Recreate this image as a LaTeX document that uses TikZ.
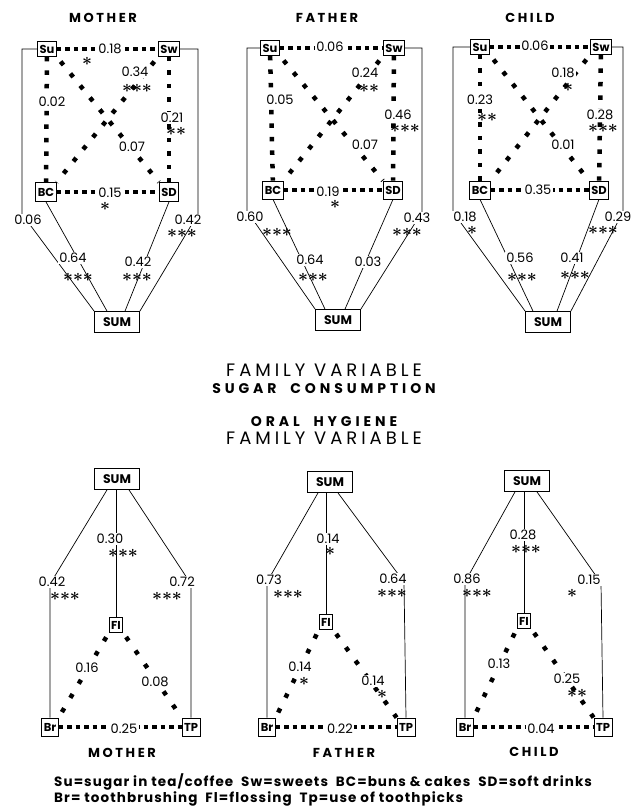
\documentclass[tikz,border=0pt]{standalone}
\usepackage{fontspec}
\setmainfont{Poppins}
\newcommand{\numfont}{\fontsize{13}{14}\selectfont}
\newcommand{\boxfont}{\bfseries\fontsize{11.5}{12}\selectfont}
\newcommand{\headfont}{\bfseries\fontsize{13}{15}\selectfont\addfontfeatures{LetterSpace=20}}
\tikzset{
  varbox/.style={draw, line width=0.8pt, inner sep=2pt, minimum height=15pt, font=\boxfont},
  sumbox/.style={varbox, minimum width=45pt, minimum height=21pt,
    font=\bfseries\fontsize{12.5}{13}\selectfont},
  link/.style={line width=0.7pt},
  sqdots/.style={line width=4.5pt, dash pattern=on 4.5pt off #1},
  sqdots/.default=4pt,
  coef/.style={fill=white, inner sep=1.5pt, font=\numfont},
  stars/.style={inner sep=0pt, font=\boldmath\fontsize{18}{18}\selectfont},
  head/.style={font=\headfont},
  midhead/.style={font=\bfseries\fontsize{14}{16}\selectfont\addfontfeatures{LetterSpace=28}},
  bighead/.style={font=\fontsize{18}{20}\selectfont\addfontfeatures{LetterSpace=22}},
  legend/.style={inner sep=0pt, font=\bfseries\fontsize{13.5}{15}\selectfont\addfontfeatures{LetterSpace=8}}
}

\begin{document}
\begin{tikzpicture}[x=1pt, y=-1pt]
  \useasboundingbox (0,0) rectangle (642,807);

  % sugar consumption: mother
  \node[head] (mHead) at (103,18) {MOTHER};
  \node[varbox] (mSu) at (47,49) {Su};
  \node[varbox] (mSw) at (169,49) {Sw};
  \node[varbox, minimum height=19pt] (mBC) at (46,192) {BC};
  \node[varbox, minimum height=19pt] (mSD) at (169,192) {SD};
  \node[sumbox] (mSUM) at (117,322) {SUM};
  \draw[sqdots] (mSu) -- (mSw);
  \draw[sqdots] (mBC) -- (mSD);
  \draw[sqdots=9pt] (mSu) -- (mBC);
  \draw[sqdots=9pt] (mSw) -- (mSD);
  \draw[sqdots=11pt, shorten <=6pt] (mSu.south east) -- (mSD.north west);
  \draw[sqdots=11pt, shorten <=6pt] (mSw.south west) -- (mBC.north east);
  \draw[link] (mSu.west) -- (22,49) -- (22,214) -- (mSUM.north west);
  \draw[link] (mSw.east) -- (198,49) -- (198,214) -- (mSUM.north east);
  \draw[link] (mBC.south) -- ([xshift=-10pt]mSUM.north);
  \draw[link] (mSD.south) -- ([xshift=8pt]mSUM.north);
  \node[coef] (mSuSw) at (110,49) {0.18};
  \node[stars] (mSuSwx) at (87,61) {${*}$};
  \node[coef] (mSuBC) at (52,102) {0.02};
  \node[coef] (mSwBC) at (135,72) {0.34};
  \node[stars] (mSwBCx) at (137,88) {${*}{*}{*}$};
  \node[coef] (mSwSD) at (172,118) {0.21};
  \node[stars] (mSwSDx) at (176,131) {${*}{*}$};
  \node[coef] (mSuSD) at (132,147) {0.07};
  \node[coef] (mBCSD) at (110,193) {0.15};
  \node[stars] (mBCSDx) at (105,206) {${*}$};
  \node[coef] (mSuSUM) at (28,220) {0.06};
  \node[coef] (mSwSUM) at (188,220) {0.42};
  \node[stars] (mSwSUMx) at (182,233) {${*}{*}{*}$};
  \node[coef] (mBCSUM) at (73,258) {0.64};
  \node[stars] (mBCSUMx) at (78,277) {${*}{*}{*}$};
  \node[coef] (mSDSUM) at (138,262) {0.42};
  \node[stars] (mSDSUMx) at (137,277) {${*}{*}{*}$};

  % sugar consumption: father
  \node[head] (fHead) at (327,18) {FATHER};
  \node[varbox] (fSu) at (270,48) {Su};
  \node[varbox] (fSw) at (394,48) {Sw};
  \node[varbox, minimum height=18pt] (fBC) at (273,190) {BC};
  \node[varbox, minimum height=18pt] (fSD) at (393,190) {SD};
  \node[sumbox] (fSUM) at (338,320) {SUM};
  \draw[sqdots] (fSu) -- (fSw);
  \draw[sqdots] (fBC) -- (fSD);
  \draw[sqdots=9pt] (fSu) -- (fBC);
  \draw[sqdots=9pt] (fSw) -- (fSD);
  \draw[sqdots=11pt, shorten <=6pt] (fSu.south east) -- (fSD.north west);
  \draw[sqdots=11pt, shorten <=6pt] (fSw.south west) -- (fBC.north east);
  \draw[link] (fSu.west) -- (247,48) -- (247,211) -- (fSUM.north west);
  \draw[link] (fSw.east) -- (422,48) -- (422,212) -- (fSUM.north east);
  \draw[link] (fBC.south) -- ([xshift=-13pt]fSUM.north);
  \draw[link] (fSD.south) -- ([xshift=7pt]fSUM.north);
  \node[coef] (fSuSw) at (330,47) {0.06};
  \node[coef] (fSuBC) at (280,100) {0.05};
  \node[coef] (fSwBC) at (365,73) {0.24};
  \node[stars] (fSwBCx) at (369,88) {${*}{*}$};
  \node[coef] (fSwSD) at (398,115) {0.46};
  \node[stars] (fSwSDx) at (405,128) {${*}{*}{*}$};
  \node[coef] (fSuSD) at (365,145) {0.07};
  \node[coef] (fBCSD) at (328,192) {0.19};
  \node[stars] (fBCSDx) at (335,204) {${*}$};
  \node[coef] (fSuSUM) at (250,217) {0.60};
  \node[stars] (fSuSUMx) at (277,232) {${*}{*}{*}$};
  \node[coef] (fSwSUM) at (417,218) {0.43};
  \node[stars] (fSwSUMx) at (407,232) {${*}{*}{*}$};
  \node[coef] (fBCSUM) at (310,260) {0.64};
  \node[stars] (fBCSUMx) at (313,277) {${*}{*}{*}$};
  \node[coef] (fSDSUM) at (368,262) {0.03};

  % sugar consumption: child
  \node[head] (cHead) at (530,18) {CHILD};
  \node[varbox] (cSu) at (480,47) {Su};
  \node[varbox] (cSw) at (601,47) {Sw};
  \node[varbox, minimum height=18pt] (cBC) at (480,190) {BC};
  \node[varbox, minimum height=18pt] (cSD) at (599,190) {SD};
  \node[sumbox] (cSUM) at (548,322) {SUM};
  \draw[sqdots] (cSu) -- (cSw);
  \draw[sqdots] (cBC) -- (cSD);
  \draw[sqdots=9pt] (cSu) -- (cBC);
  \draw[sqdots=9pt] (cSw) -- (cSD);
  \draw[sqdots=11pt, shorten <=6pt] (cSu.south east) -- (cSD.north west);
  \draw[sqdots=11pt, shorten <=6pt] (cSw.south west) -- (cBC.north east);
  \draw[link] (cSu.west) -- (453,47) -- (453,212) -- (cSUM.north west);
  \draw[link] (cSw.east) -- (623,47) -- (623,212) -- (cSUM.north east);
  \draw[link] (cBC.south) -- ([xshift=-15pt]cSUM.north);
  \draw[link] (cSD.south) -- ([xshift=9pt]cSUM.north);
  \node[coef] (cSuSw) at (535,46) {0.06};
  \node[coef] (cSuBC) at (480,100) {0.23};
  \node[stars] (cSuBCx) at (487,117) {${*}{*}$};
  \node[coef] (cSwBC) at (563,73) {0.18};
  \node[stars] (cSwBCx) at (568,87) {${*}$};
  \node[coef] (cSwSD) at (600,115) {0.28};
  \node[stars] (cSwSDx) at (603,128) {${*}{*}{*}$};
  \node[coef] (cSuSD) at (563,145) {0.01};
  \node[coef] (cBCSD) at (538,190) {0.35};
  \node[coef] (cSuSUM) at (465,217) {0.18};
  \node[stars] (cSuSUMx) at (472,230) {${*}$};
  \node[coef] (cSwSUM) at (618,217) {0.29};
  \node[stars] (cSwSUMx) at (603,230) {${*}{*}{*}$};
  \node[coef] (cBCSUM) at (520,258) {0.56};
  \node[stars] (cBCSUMx) at (522,277) {${*}{*}{*}$};
  \node[coef] (cSDSUM) at (572,258) {0.41};
  \node[stars] (cSDSUMx) at (575,275) {${*}{*}{*}$};

  % middle headings
  \node[bighead] (famA) at (324,370) {FAMILY VARIABLE};
  \node[midhead] (sugar) at (324,389) {SUGAR\ \ CONSUMPTION};
  \node[midhead] (oral) at (324,422) {ORAL\ \ HYGIENE};
  \node[bighead] (famB) at (324,438) {FAMILY VARIABLE};

  % oral hygiene: mother
  \node[sumbox] (mSum2) at (117,479) {SUM};
  \node[varbox] (mFl) at (116,625) {FI};
  \node[varbox, minimum height=18pt] (mBr) at (50,727) {Br};
  \node[varbox, minimum height=18pt] (mTP) at (191,727) {TP};
  \draw[link] ([xshift=-10pt]mSum2.south) -- (50,584) -- (mBr.north);
  \draw[link] (mSum2.south -| mFl.north) -- (mFl.north);
  \draw[link] ([xshift=12pt]mSum2.south) -- (191,584) -- (mTP.north);
  \draw[sqdots] (mBr) -- (mTP);
  \draw[sqdots=12pt, shorten <=5pt] (mFl.south west) -- (mBr.north east);
  \draw[sqdots=12pt, shorten <=5pt] (mFl.south east) -- (mTP.north west);
  \node[coef] (mSumBr) at (52,582) {0.42};
  \node[stars] (mSumBrx) at (65,596) {${*}{*}{*}$};
  \node[coef] (mSumFl) at (110,539) {0.30};
  \node[stars] (mSumFlx) at (123,553) {${*}{*}{*}$};
  \node[coef] (mSumTP) at (182,582) {0.72};
  \node[stars] (mSumTPx) at (167,596) {${*}{*}{*}$};
  \node[coef] (mFlBr) at (87,668) {0.16};
  \node[coef] (mFlTP) at (155,682) {0.08};
  \node[coef] (mBrTP) at (124,729) {0.25};
  \node[head] (mFoot) at (122,753) {MOTHER};

  % oral hygiene: father
  \node[sumbox] (fSum2) at (330,482) {SUM};
  \node[varbox] (fFl) at (326,622) {FI};
  \node[varbox, minimum height=18pt] (fBr) at (267,727) {Br};
  \node[varbox, minimum height=18pt] (fTP) at (406,727) {TP};
  \draw[link] ([xshift=-12pt]fSum2.south) -- (267,582) -- (fBr.north);
  \draw[link] (fSum2.south -| fFl.north) -- (fFl.north);
  \draw[link] ([xshift=8pt]fSum2.south) -- (404,582) -- (fTP.north);
  \draw[sqdots] (fBr) -- (fTP);
  \draw[sqdots=12pt, shorten <=5pt] (fFl.south west) -- (fBr.north east);
  \draw[sqdots=12pt, shorten <=5pt] (fFl.south east) -- (fTP.north west);
  \node[coef] (fSumBr) at (269,580) {0.73};
  \node[stars] (fSumBrx) at (288,594) {${*}{*}{*}$};
  \node[coef] (fSumFl) at (328,539) {0.14};
  \node[stars] (fSumFlx) at (330,551) {${*}$};
  \node[coef] (fSumTP) at (393,579) {0.64};
  \node[stars] (fSumTPx) at (392,593) {${*}{*}{*}$};
  \node[coef] (fFlBr) at (300,667) {0.14};
  \node[stars] (fFlBrx) at (304,681) {${*}$};
  \node[coef] (fFlTP) at (373,681) {0.14};
  \node[stars] (fFlTPx) at (382,694) {${*}$};
  \node[coef] (fBrTP) at (340,729) {0.22};
  \node[head] (fFoot) at (344,753) {FATHER};

  % oral hygiene: child
  \node[sumbox] (cSum2) at (527,481) {SUM};
  \node[varbox] (cFl) at (524,621) {FI};
  \node[varbox, minimum height=18pt] (cBr) at (465,727) {Br};
  \node[varbox, minimum height=18pt] (cTP) at (603,727) {TP};
  \draw[link] ([xshift=-12pt]cSum2.south) -- (465,582) -- (cBr.north);
  \draw[link] (cSum2.south -| cFl.north) -- (cFl.north);
  \draw[link] ([xshift=10pt]cSum2.south) -- (601,583) -- (cTP.north);
  \draw[sqdots] (cBr) -- (cTP);
  \draw[sqdots=12pt, shorten <=5pt] (cFl.south west) -- (cBr.north east);
  \draw[sqdots=12pt, shorten <=5pt] (cFl.south east) -- (cTP.north west);
  \node[coef] (cSumBr) at (467,579) {0.86};
  \node[stars] (cSumBrx) at (477,593) {${*}{*}{*}$};
  \node[coef] (cSumFl) at (523,535) {0.28};
  \node[stars] (cSumFlx) at (526,549) {${*}{*}{*}$};
  \node[coef] (cSumTP) at (589,580) {0.15};
  \node[stars] (cSumTPx) at (572,593) {${*}$};
  \node[coef] (cFlBr) at (499,664) {0.13};
  \node[coef] (cFlTP) at (567,679) {0.25};
  \node[stars] (cFlTPx) at (577,693) {${*}{*}$};
  \node[coef] (cBrTP) at (541,729) {0.04};
  \node[head] (cFoot) at (534,752) {CHILD};

  % key
  \node[legend, anchor=base west] (key1) at (54,786)
    {Su=sugar in tea/coffee\ \ Sw=sweets\ \ BC=buns \& cakes\ \ SD=soft drinks};
  \node[legend, anchor=base west] (key2) at (54,802)
    {Br= toothbrushing\ \ Fl=flossing\ \ Tp=use of toothpicks};
\end{tikzpicture}
\end{document}
